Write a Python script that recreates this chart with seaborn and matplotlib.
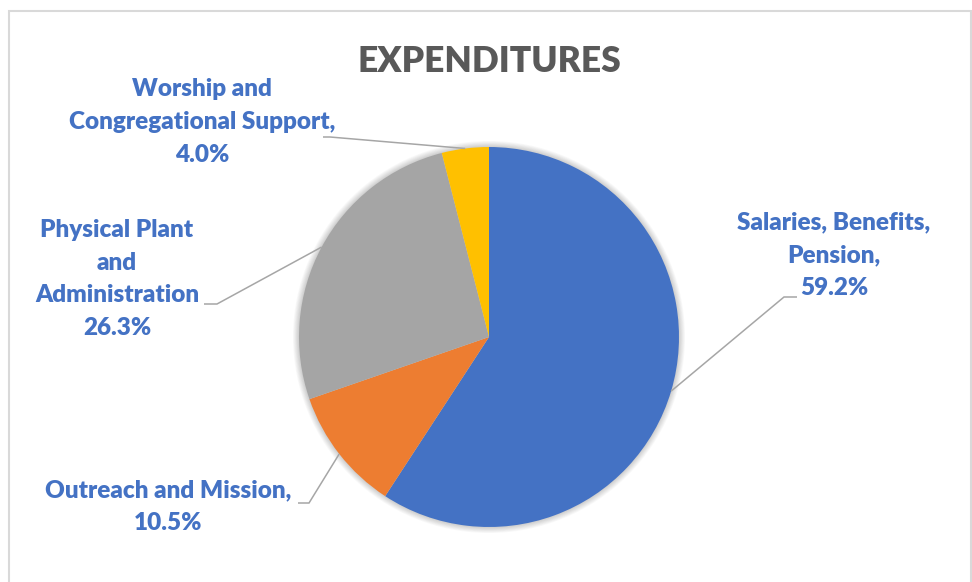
import numpy as np
import pandas as pd
import matplotlib
matplotlib.use("Agg")
import matplotlib.pyplot as plt
from matplotlib.patches import Rectangle, Circle
from matplotlib.font_manager import FontProperties
import seaborn as sns

# ---------------- data ----------------
categories = ["Salaries, Benefits, Pension", "Outreach and Mission",
              "Physical Plant and Administration", "Worship and Congregational Support"]
values = [59.2, 10.5, 26.3, 4.0]
label_lines = [["Salaries, Benefits,", "Pension,"],
               ["Outreach and Mission,"],
               ["Physical Plant", "and", "Administration"],
               ["Worship and", "Congregational Support,"]]
colors = ["#4472C4", "#ED7D31", "#A5A5A5", "#FFC000"]
title = "EXPENDITURES"

# ---------------- layout (pixels) ----------------
W, H = 972, 582
CX, CY, R = 489, 337, 190
# label: (center x, last-line baseline y); leader: elbow, end
label_pos = [(834, 295), (168, 530), (117, 335), (202, 161.7)]
leader_elbow = [(784, 297), (309, 503), (217, 304), (330, 137)]
leader_end = [(797, 297), (298, 503), (204, 304), (323, 137)]
LINE_STEP = 32.0
WEIGHT = "heavy"

sns.set_theme(style="white")
plt.rcParams["font.family"] = ["Lato", "DejaVu Sans"]

fig = plt.figure(figsize=(W / 100, H / 100), dpi=100)
ax = fig.add_axes([0, 0, 1, 1])

def P(x, y):
    return ((x - CX) / R, (CY - y) / R)

df = pd.DataFrame({"category": categories, "value": values})
pal = sns.color_palette(colors)

# soft shadow
for k in range(8):
    ax.add_patch(Circle((0, 0), 1 + 0.004 * (k + 1), color="black", alpha=0.022,
                        lw=0, zorder=0))

wedges, _ = ax.pie(df["value"], colors=pal, startangle=90, counterclock=False,
                   radius=1, center=(0, 0), wedgeprops=dict(linewidth=0),
                   frame=False)
for w in wedges:
    w.set_zorder(2)

ax.set_xlim(-CX / R, (W - CX) / R)
ax.set_ylim(-(H - CY) / R, CY / R)
ax.set_aspect("auto")
ax.axis("off")

# font sizing to match reference widths
renderer = fig.canvas.get_renderer()
fp = FontProperties(family="Lato", weight=WEIGHT, size=10)
w10, _, _ = renderer.get_text_width_height_descent("Congregational Support,", fp, ismath=False)
label_size = 10 * 268 / w10
fp2 = FontProperties(family="Lato", weight=WEIGHT, size=label_size)
_, hlp, dlp = renderer.get_text_width_height_descent("lp", fp2, ismath=False)
linesp = LINE_STEP / (hlp - dlp) * 0.896

tw10, _, _ = renderer.get_text_width_height_descent(title, fp, ismath=False)
title_size = 10 * 265 / tw10

tx, ty = P(489, 71.7)
ax.text(tx, ty, title, ha="center", va="baseline", fontsize=title_size,
        fontweight=WEIGHT, color="#595959", family=["Lato", "DejaVu Sans"])

for i, w in enumerate(wedges):
    mid = np.deg2rad((w.theta1 + w.theta2) / 2)
    ex, ey = np.cos(mid), np.sin(mid)
    bx, by = P(*leader_elbow[i])
    qx, qy = P(*leader_end[i])
    ax.plot([ex, bx, qx], [ey, by, qy], color="#A6A6A6", lw=1.1, zorder=3,
            solid_joinstyle="miter", solid_capstyle="butt")
    text = "\n".join(label_lines[i] + [f"{values[i]:.1f}%"])
    lx, ly = P(*label_pos[i])
    ax.text(lx, ly, text, ha="center", va="baseline", fontsize=label_size,
            fontweight=WEIGHT, color="#4472C4", linespacing=linesp,
            family=["Lato", "DejaVu Sans"], zorder=4)

fig.add_artist(Rectangle((9 / W, -0.05), (970.5 - 9) / W, 1 - 11 / H + 0.05,
                         transform=fig.transFigure, fill=False,
                         ec="#D9D9D9", lw=1.5))

fig.savefig("out.png", dpi=100, facecolor="white")
